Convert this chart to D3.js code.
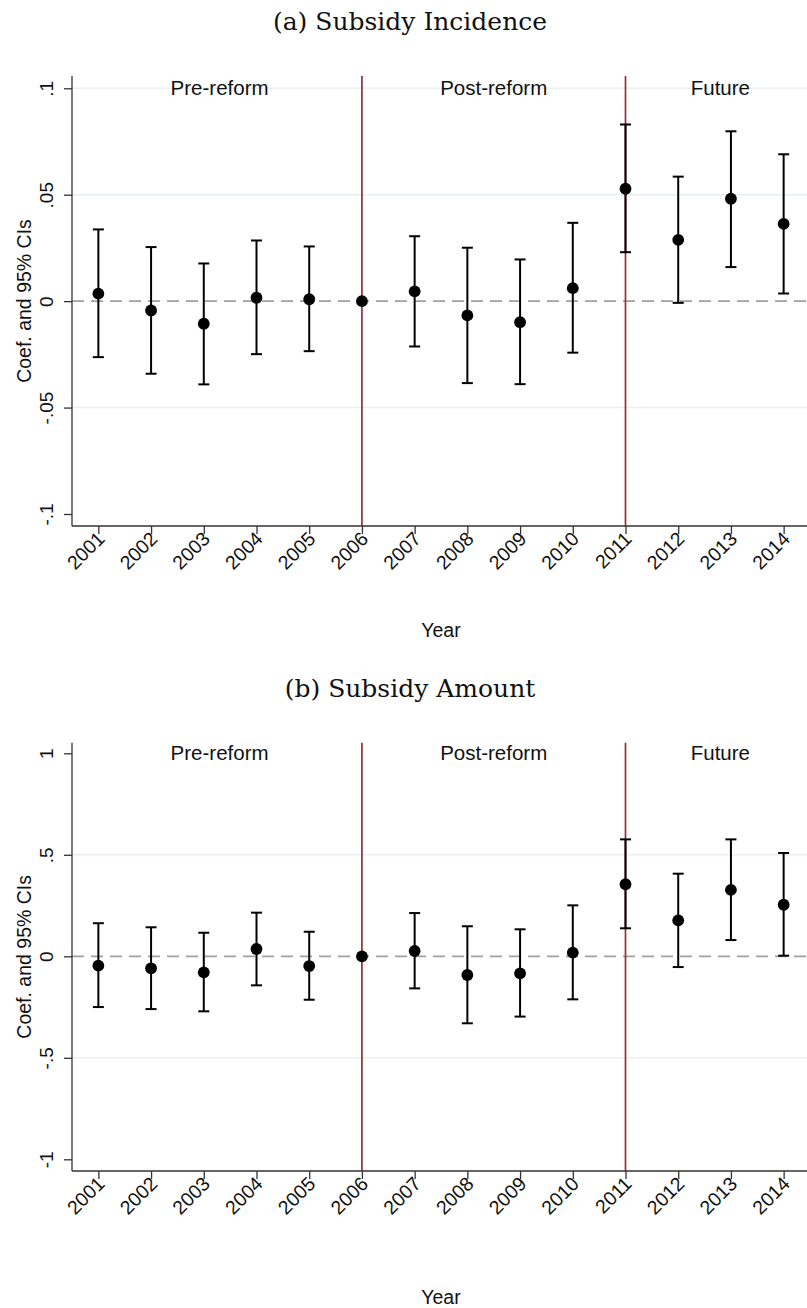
<!DOCTYPE html>
<html><head><meta charset="utf-8">
<script src="https://cdn.jsdelivr.net/npm/d3@7"></script>
<style>
html,body{margin:0;padding:0;background:#fff;}
svg{display:block;}
</style></head>
<body>
<svg id="chart" width="807" height="1308"></svg>
<script>
// ---- data ----
const years = [2001,2002,2003,2004,2005,2006,2007,2008,2009,2010,2011,2012,2013,2014];
const reformLines = [2006, 2011];
const periodLabels = ["Pre-reform","Post-reform","Future"];
const periodX = [2003.3, 2008.5, 2012.8];

const incCoef  = [0.0035,-0.0044,-0.0106,0.0016,0.0009,0,0.0046,-0.0067,-0.0099,0.0061,0.0528,0.0288,0.0481,0.0363];
const incLower = [-0.0263,-0.0341,-0.0391,-0.0249,-0.0235,0,-0.0213,-0.0385,-0.0390,-0.0242,0.0230,-0.0008,0.0160,0.0036];
const incUpper = [0.0337,0.0254,0.0177,0.0285,0.0257,0,0.0305,0.0251,0.0196,0.0368,0.0830,0.0585,0.0798,0.0690];
const incTicks = [-0.1,-0.05,0,0.05,0.1];
const incTickLabels = ["-.1","-.05","0",".05",".1"];
const incGrid = [-0.05,0.05,0.1];

const amtCoef  = [-0.046,-0.059,-0.079,0.036,-0.048,0,0.026,-0.092,-0.084,0.018,0.355,0.177,0.327,0.254];
const amtLower = [-0.250,-0.260,-0.271,-0.143,-0.214,0,-0.158,-0.330,-0.297,-0.212,0.138,-0.053,0.080,0.003];
const amtUpper = [0.163,0.143,0.116,0.215,0.121,0,0.213,0.148,0.133,0.251,0.576,0.407,0.576,0.509];
const amtTicks = [-1,-0.5,0,0.5,1];
const amtTickLabels = ["-1","-.5","0",".5","1"];
const amtGrid = [-0.5,0.5];

const svg = d3.select("#chart");
const sans = "'Liberation Sans', Arial, sans-serif";
const serif = "'DejaVu Serif', serif";

function panel(o){
  const g = svg.append("g");
  const x = d3.scaleLinear().domain([2000.5, 2014.5]).range([o.left, o.right]);
  const y = d3.scaleLinear().domain([o.ticks[0], o.ticks[o.ticks.length-1]]).range([o.yMinPx, o.yMaxPx]);

  // title
  g.append("text").attr("x", 410).attr("y", o.titleY)
    .attr("text-anchor","middle").attr("font-family", serif).attr("font-size", 25)
    .attr("fill","#111").text(o.title);

  // gridlines
  g.selectAll(".grid").data(o.grid).join("line")
    .attr("x1", o.left).attr("x2", o.right)
    .attr("y1", d=>y(d)).attr("y2", d=>y(d))
    .attr("stroke","#e8f0f2").attr("stroke-width",1.5);

  // zero dashed line
  g.append("line").attr("x1", o.left).attr("x2", o.right)
    .attr("y1", y(0)).attr("y2", y(0))
    .attr("stroke","#a0a0a0").attr("stroke-width",1.8).attr("stroke-dasharray","12,7");

  // reform lines
  g.selectAll(".ref").data(reformLines).join("line")
    .attr("x1", d=>x(d)).attr("x2", d=>x(d))
    .attr("y1", o.top).attr("y2", o.bottom)
    .attr("stroke","#952f38").attr("stroke-width",1.7);

  // y axis
  const yAxis = d3.axisLeft(y).tickValues(o.ticks).tickSize(8)
    .tickFormat((d,i)=>o.tickLabels[i]);
  const ya = g.append("g").attr("transform",`translate(${o.left},0)`).call(yAxis);
  ya.select(".domain").remove();
  ya.selectAll(".tick line").attr("stroke","#333").attr("stroke-width",1.3);
  ya.selectAll(".tick text").attr("font-family",sans).attr("font-size",19).attr("fill","#111")
    .attr("transform","rotate(-90)").attr("x",0).attr("y",-19).attr("dy",0)
    .attr("text-anchor","middle");
  g.append("line").attr("x1",o.left).attr("x2",o.left).attr("y1",o.top).attr("y2",o.bottom)
    .attr("stroke","#333").attr("stroke-width",1.3);

  // x axis
  const xAxis = d3.axisBottom(x).tickValues(years).tickSize(8).tickFormat(d3.format("d"));
  const xa = g.append("g").attr("transform",`translate(0,${o.bottom})`).call(xAxis);
  xa.select(".domain").remove();
  xa.selectAll(".tick line").attr("stroke","#333").attr("stroke-width",1.3);
  xa.selectAll(".tick text").attr("font-family",sans).attr("font-size",19.5).attr("fill","#111")
    .attr("text-anchor","end").attr("dy",0).attr("y",0).attr("x",0)
    .attr("transform","translate(7,14) rotate(-45)");
  g.append("line").attr("x1",o.left).attr("x2",o.right).attr("y1",o.bottom).attr("y2",o.bottom)
    .attr("stroke","#333").attr("stroke-width",1.3);

  // axis titles
  g.append("text").attr("transform",`translate(31,${(o.top+o.bottom)/2}) rotate(-90)`)
    .attr("text-anchor","middle").attr("font-family",sans).attr("font-size",19.5).attr("fill","#111")
    .text("Coef. and 95% CIs");
  g.append("text").attr("x",(o.left+o.right)/2).attr("y",o.bottom+o.xTitleOff)
    .attr("text-anchor","middle").attr("font-family",sans).attr("font-size",19.5).attr("fill","#111")
    .text("Year");

  // period labels
  g.selectAll(".per").data(periodLabels).join("text")
    .attr("x",(d,i)=>x(periodX[i])).attr("y", y(o.ticks[o.ticks.length-1]) + 7)
    .attr("text-anchor","middle").attr("font-family",sans).attr("font-size",20.5).attr("fill","#111")
    .text(d=>d);

  // error bars
  const rows = years.map((yr,i)=>({yr, c:o.coef[i], lo:o.lower[i], hi:o.upper[i]}));
  const eb = rows.filter(r=>r.hi!==r.lo);
  g.selectAll(".eb").data(eb).join("line")
    .attr("x1",d=>x(d.yr)).attr("x2",d=>x(d.yr))
    .attr("y1",d=>y(d.lo)).attr("y2",d=>y(d.hi))
    .attr("stroke","#000").attr("stroke-width",2);
  ["lo","hi"].forEach(k=>{
    g.selectAll(".cap"+k).data(eb).join("line")
      .attr("x1",d=>x(d.yr)-5.5).attr("x2",d=>x(d.yr)+5.5)
      .attr("y1",d=>y(d[k])).attr("y2",d=>y(d[k]))
      .attr("stroke","#000").attr("stroke-width",2);
  });
  g.selectAll(".pt").data(rows).join("circle")
    .attr("cx",d=>x(d.yr)).attr("cy",d=>y(d.c)).attr("r",5.9).attr("fill","#000");
}

panel({title:"(a) Subsidy Incidence", titleY:29.5, left:72, right:810, top:76, bottom:526,
  yMinPx:514, yMaxPx:88.3, ticks:incTicks, tickLabels:incTickLabels, grid:incGrid,
  coef:incCoef, lower:incLower, upper:incUpper, xTitleOff:111});
panel({title:"(b) Subsidy Amount", titleY:696.5, left:72, right:810, top:742.7, bottom:1171,
  yMinPx:1159.3, yMaxPx:753.3, ticks:amtTicks, tickLabels:amtTickLabels, grid:amtGrid,
  coef:amtCoef, lower:amtLower, upper:amtUpper, xTitleOff:133});
</script>
</body></html>
